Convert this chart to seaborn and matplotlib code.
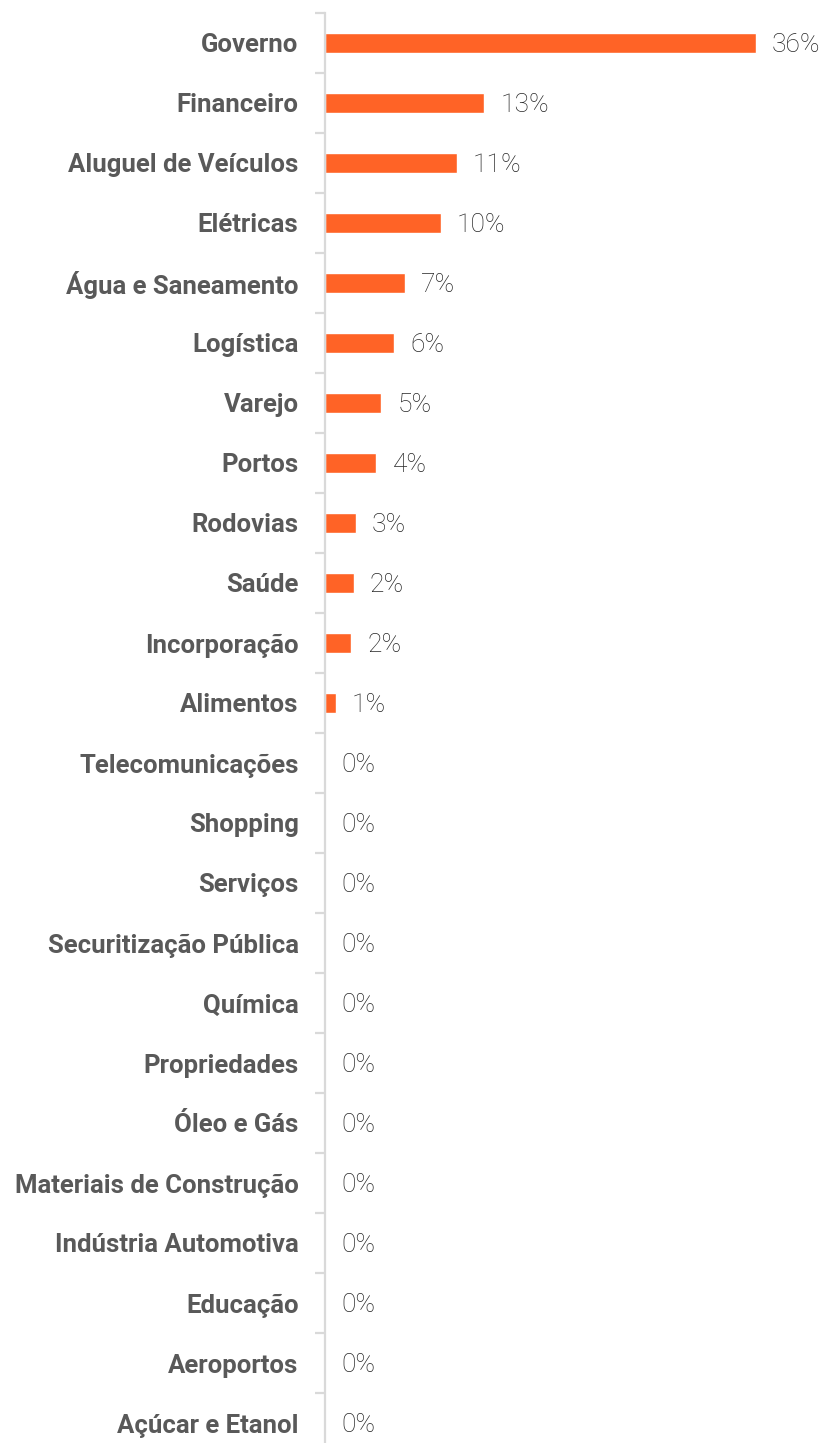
import matplotlib
matplotlib.use("Agg")
import matplotlib.pyplot as plt
import seaborn as sns
import pandas as pd
import numpy as np

categories = ["Governo", "Financeiro", "Aluguel de Veículos", "Elétricas", "Água e Saneamento",
              "Logística", "Varejo", "Portos", "Rodovias", "Saúde", "Incorporação", "Alimentos",
              "Telecomunicações", "Shopping", "Serviços", "Securitização Pública", "Química",
              "Propriedades", "Óleo e Gás", "Materiais de Construção", "Indústria Automotiva",
              "Educação", "Aeroportos", "Açúcar e Etanol"]
values = [36.0, 13.3, 11.0, 9.7, 6.7, 5.8, 4.7, 4.3, 2.6, 2.4, 2.2, 0.9,
          0, 0, 0, 0, 0, 0, 0, 0, 0, 0, 0, 0]

df = pd.DataFrame({"cat": categories, "val": values})

sns.set_theme(style="white")
plt.rcParams['font.family'] = ['Roboto', 'DejaVu Sans']

fig = plt.figure(figsize=(8.25, 14.43), dpi=100)
H = 1443.0
ax = fig.add_axes([325/825, (H - 1453)/H, 500/825, 1440/H])

sns.barplot(data=df, y="cat", x="val", orient="h", color="#FF6326", width=0.32,
            saturation=1, ax=ax)

ax.set_xlim(0, 36.0 * 500 / 431)
ax.set_ylim(len(categories) - 0.5, -0.5)
ax.set_xlabel("")
ax.set_ylabel("")
ax.set_xticks([])

for s in ["top", "right", "bottom"]:
    ax.spines[s].set_visible(False)
ax.spines["left"].set_color("#d9d9d9")
ax.spines["left"].set_linewidth(1.6)

ax.set_yticks(range(len(categories)))
ax.set_yticklabels(categories, fontsize=18.5, fontweight="bold", color="#595959")
ax.tick_params(axis="y", which="major", left=True, length=0, pad=19)
ax.set_yticks(np.arange(-0.5, len(categories), 1), minor=True)
ax.tick_params(axis="y", which="minor", left=True, length=7, width=1.6, color="#d9d9d9")

labels = [f"{v:.0f}%" for v in values]
texts = ax.bar_label(ax.containers[0], labels=labels, padding=11.5, fontsize=19,
                     fontweight="light", color="#262626")
for t in texts:
    t.set_verticalalignment("center_baseline")

fig.savefig("out.png", dpi=100)
